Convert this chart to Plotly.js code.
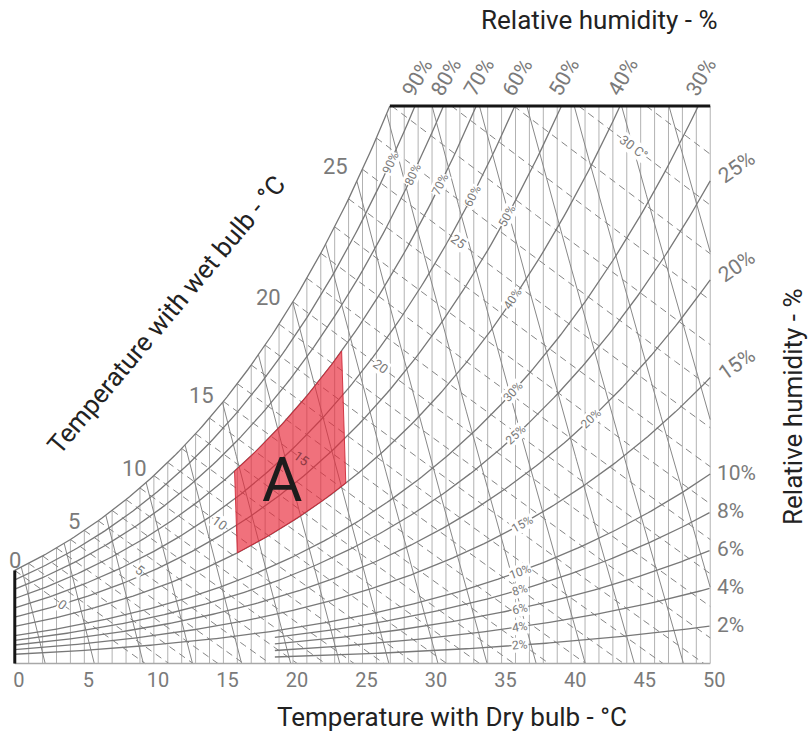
<!DOCTYPE html>
<html><head><meta charset="utf-8">
<script src="https://cdn.plot.ly/plotly-3.0.1.min.js"></script>
<style>html,body{margin:0;padding:0;background:#fff}#chart{width:808px;height:731px}</style>
</head><body><div id="chart"></div>
<script>
// ---------------- data ----------------
const dryBulbTicks = [0,5,10,15,20,25,30,35,40,45,50];
const dryBulbLines = [0,1,2,3,4,5,6,7,8,9,10,11,12,13,14,15,16,17,18,19,20,21,22,23,24,25,26,27,28,29,30,31,32,33,34,35,36,37,38,39,40,41,42,43,44,45,46,47,48,49,50];
const rhLevels = [2,4,6,8,10,15,20,25,30,40,50,60,70,80,90,100];
const rhStartT = [18.7,18.7,18.7,18.7,0,0,0,0,0,0,0,0,0,0,0,0];
const rhTopLabels = [90,80,70,60,50,40,30];
const rhRightLabels = [25,20,15,10,8,6,4,2];
const rhInnerLabels = [90,80,70,60,50,40,30,25,20,15,10,8,6,4,2];
const rhInnerLabelT = [27.0,28.6,30.6,32.9,35.4,35.8,35.8,36.0,41.4,36.5,36.3,36.3,36.3,36.3,36.3];
const wetBulbLines = [0,1,2,3,4,5,6,7,8,9,10,11,12,13,14,15,16,17,18,19,20,21,22,23,24,25,26,27,28,29,30,31,32,33,34];
const wetBulbSatLabels = [0,5,10,15,20,25];
const wetBulbInnerVal = [0,5,10,15,20,25,30];
const wetBulbInnerText = ['0','5','10','15','20','25','30 C°'];
const wetBulbInnerT = [3.4,9.0,14.75,20.6,26.3,31.9,44.5];
const volumeLines = [0.78,0.79,0.80,0.81,0.82,0.83,0.84,0.85,0.86,0.87,0.88,0.89,0.90,0.91,0.92,0.93,0.94];
const zoneRH = [40,70];           // lower / upper relative humidity of zone A
const zoneTop = [15.8,23.5];      // dry bulb span along the upper edge
const zoneBottom = [16.0,23.8];   // dry bulb span along the lower edge
const zoneLabel = {text:'A', t:19.2, w:7.45};

// ---------------- psychrometrics ----------------
const P = 101.325, YTOP = 22.6, XMAX = 50;
function pws(T){ return 0.61094*Math.exp(17.625*T/(T+243.04)); }
function Wrh(T, rh){ const pw = rh/100*pws(T); return 622*pw/(P-pw); }
function Wwb(T, twb){ const ws = Wrh(twb,100)/1000; return 1000*((2501-2.326*twb)*ws - 1.006*(T-twb))/(2501+1.86*T-4.186*twb); }
function Tvol(v, W){ return v*P/(0.287042*(1+1.607858*W/1000)) - 273.15; }

function clipSeg(a,b){
  let t0=0,t1=1; const dx=b[0]-a[0], dy=b[1]-a[1];
  const p=[-dx,dx,-dy,dy], q=[a[0]-0, XMAX-a[0], a[1]-0, YTOP-a[1]];
  for(let k=0;k<4;k++){
    if(p[k]===0){ if(q[k]<0) return null; }
    else { const r=q[k]/p[k];
      if(p[k]<0){ if(r>t1) return null; if(r>t0) t0=r; }
      else { if(r<t0) return null; if(r<t1) t1=r; } }
  }
  return [[a[0]+t0*dx,a[1]+t0*dy],[a[0]+t1*dx,a[1]+t1*dy],t1<1];
}
function addClipped(xs, ys, pts){
  let open=false;
  for(let i=0;i<pts.length-1;i++){
    const s=clipSeg(pts[i],pts[i+1]);
    if(!s){ if(open){xs.push(null);ys.push(null);open=false;} continue; }
    if(!open){ xs.push(s[0][0]); ys.push(s[0][1]); }
    xs.push(s[1][0]); ys.push(s[1][1]); open=true;
    if(s[2]){ xs.push(null); ys.push(null); open=false; }
  }
  xs.push(null); ys.push(null);
}

// vertical dry bulb lines
const vx=[], vy=[];
dryBulbLines.forEach(T=>addClipped(vx,vy,[[T,0],[T,Math.min(Wrh(T,100),YTOP)]]));
// specific volume lines
const sx=[], sy=[];
volumeLines.forEach(v=>{
  const pts=[];
  for(let W=0; W<=30; W+=0.2){
    const T=Tvol(v,W);
    if(W>Wrh(T,100)){
      let lo=W-0.2, hi=W;
      for(let k=0;k<30;k++){ const m=(lo+hi)/2; if(m>Wrh(Tvol(v,m),100)) hi=m; else lo=m; }
      pts.push([Tvol(v,lo),lo]); break;
    }
    pts.push([T,W]);
  }
  addClipped(sx,sy,pts);
});
// wet bulb lines
const wx=[], wy=[];
wetBulbLines.forEach(twb=>{
  const ws=Wrh(twb,100)/1000;
  const T0 = twb + (2501-2.326*twb)*ws/1.006;
  const pts=[];
  for(let T=twb; T<T0 && T<=XMAX+1; T+=0.5) pts.push([T,Wwb(T,twb)]);
  pts.push([T0,0]);
  addClipped(wx,wy,pts);
});
// relative humidity curves
const rx=[], ry=[];
rhLevels.forEach((rh,i)=>{
  const pts=[];
  for(let T=rhStartT[i]; T<=XMAX+0.001; T+=0.25){ pts.push([T,Wrh(T,rh)]); if(Wrh(T,rh)>YTOP+1) break; }
  addClipped(rx,ry,pts);
});
// zone A polygon
const zx=[], zy=[];
for(let T=zoneTop[0]; T<=zoneTop[1]+1e-9; T+=0.1){ zx.push(T); zy.push(Wrh(T,zoneRH[1])); }
for(let T=zoneBottom[1]; T>=zoneBottom[0]-1e-9; T-=0.1){ zx.push(T); zy.push(Wrh(T,zoneRH[0])); }
zx.push(zx[0]); zy.push(zy[0]);
function inZone(T,W){ return T>zoneTop[0] && T<zoneBottom[1] && W<Wrh(T,zoneRH[1]) && W>Wrh(T,zoneRH[0]); }
// saturation crossing at top
function crossTop(rh){ let lo=0,hi=60; for(let k=0;k<50;k++){const m=(lo+hi)/2; if(Wrh(m,rh)>YTOP) hi=m; else lo=m;} return lo; }
const tSatTop = crossTop(100);

const traces=[
  {x:vx,y:vy,mode:'lines',line:{color:'#b2b2b2',width:1},hoverinfo:'skip'},
  {x:sx,y:sy,mode:'lines',line:{color:'#888888',width:1},hoverinfo:'skip'},
  {x:wx,y:wy,mode:'lines',line:{color:'#858585',width:1,dash:'7px,5px'},hoverinfo:'skip'},
  {x:rx,y:ry,mode:'lines',line:{color:'#787878',width:1.3},hoverinfo:'skip'},
  {x:[0,XMAX],y:[0,0],mode:'lines',line:{color:'#a8a8a8',width:1.5},hoverinfo:'skip'},
  {x:zx,y:zy,mode:'lines',fill:'toself',fillcolor:'rgba(232,40,56,0.66)',line:{color:'rgba(205,35,50,0.85)',width:1},hoverinfo:'skip'},
  {x:[tSatTop,XMAX],y:[YTOP,YTOP],mode:'lines',line:{color:'#151515',width:3},hoverinfo:'skip'},
  {x:[0,0],y:[0,Wrh(0,100)],mode:'lines',line:{color:'#151515',width:3},hoverinfo:'skip'}
];

// ---------------- annotations ----------------
const pxT = 701/50.4, pxW = 563/22.82;
const G='#7a7a7a', F='Roboto, sans-serif';
const ann=[];
function slopeAngle(f,T){ const d=0.05; const dW=f(T+d)-f(T-d); return -Math.atan2(dW*pxW, 2*d*pxT)*180/Math.PI; }
// wet bulb labels at saturation
wetBulbSatLabels.forEach(t=>{
  if(t===0) ann.push({x:t,y:Wrh(t,100),text:String(t),showarrow:false,xanchor:'center',yanchor:'bottom',yshift:-5,font:{size:22,color:G,family:F}});
  else ann.push({x:t,y:Wrh(t,100),text:String(t),showarrow:false,xanchor:'right',yanchor:'bottom',xshift:-0.5*t,yshift:-0.3*t-4,font:{size:22,color:G,family:F}});
});
// top RH labels
rhTopLabels.forEach(rh=>{
  ann.push({x:crossTop(rh),y:YTOP,text:rh+'%',showarrow:false,textangle:-60,xanchor:'center',yanchor:'bottom',xshift:3,yshift:3,font:{size:21,color:G,family:F}});
});
// right RH labels
rhRightLabels.forEach(rh=>{
  const rot = rh>=15;
  ann.push({x:XMAX,y:Wrh(XMAX,rh),text:rh+'%',showarrow:false,textangle:rot?-35:0,xanchor:'left',yanchor:'middle',xshift:rot?1:5,yshift:rot?14:1,font:{size:21,color:G,family:F}});
});
// inner RH labels
rhInnerLabels.forEach((rh,i)=>{
  const T=rhInnerLabelT[i];
  ann.push({x:T,y:Wrh(T,rh),text:rh+'%',showarrow:false,xanchor:'center',yanchor:'middle',textangle:slopeAngle(t=>Wrh(t,rh),T),bgcolor:'#ffffff',borderpad:0,font:{size:12,color:G,family:F}});
});
// inner wet bulb labels
wetBulbInnerVal.forEach((twb,i)=>{
  const T=wetBulbInnerT[i], W=Wwb(T,twb);
  const z=inZone(T,W);
  ann.push({x:T,y:W,text:wetBulbInnerText[i],showarrow:false,xanchor:'center',yanchor:'middle',textangle:slopeAngle(t=>Wwb(t,twb),T),
    bgcolor:z?'rgba(0,0,0,0)':'#ffffff',borderpad:0,font:{size:13,color:z?'#8e3a44':G,family:F}});
});
// zone label
ann.push({x:zoneLabel.t,y:zoneLabel.w,text:zoneLabel.text,showarrow:false,xanchor:'center',yanchor:'middle',font:{size:62,color:'#1c1c1c',family:F}});
// titles
const T1='#222';
const titleBase={xref:'paper',yref:'paper',showarrow:false,xanchor:'center',yanchor:'middle'};
ann.push(Object.assign({},titleBase,{x:0.837,y:1.147,text:'Relative humidity - %',font:{size:26,color:T1,family:F}}));
ann.push(Object.assign({},titleBase,{x:0.628,y:-0.0906,text:'Temperature with Dry bulb - °C',font:{size:26,color:T1,family:F}}));
ann.push(Object.assign({},titleBase,{x:1.114,y:0.46,text:'Relative humidity - %',textangle:-90,font:{size:26,color:T1,family:F}}));
ann.push(Object.assign({},titleBase,{x:0.2197,y:0.6234,text:'Temperature with wet bulb - °C',textangle:-50,font:{size:26,color:T1,family:F}}));

const layout={
  width:808,height:731,
  margin:{l:12,r:95,t:103,b:65},
  paper_bgcolor:'#ffffff',plot_bgcolor:'#ffffff',
  showlegend:false,
  font:{family:F},
  xaxis:{range:[-0.2,50.2],tickvals:dryBulbTicks,ticktext:dryBulbTicks.map(String),ticks:'',showgrid:false,zeroline:false,showline:false,
         tickfont:{size:20,color:G,family:F},ticklabelshift:4,ticklabelstandoff:0,fixedrange:true},
  yaxis:{range:[-0.1,YTOP+0.12],visible:false,showgrid:false,zeroline:false,fixedrange:true},
  annotations:ann
};
Plotly.newPlot('chart',traces,layout,{displayModeBar:false,staticPlot:true});
</script>
</body></html>
